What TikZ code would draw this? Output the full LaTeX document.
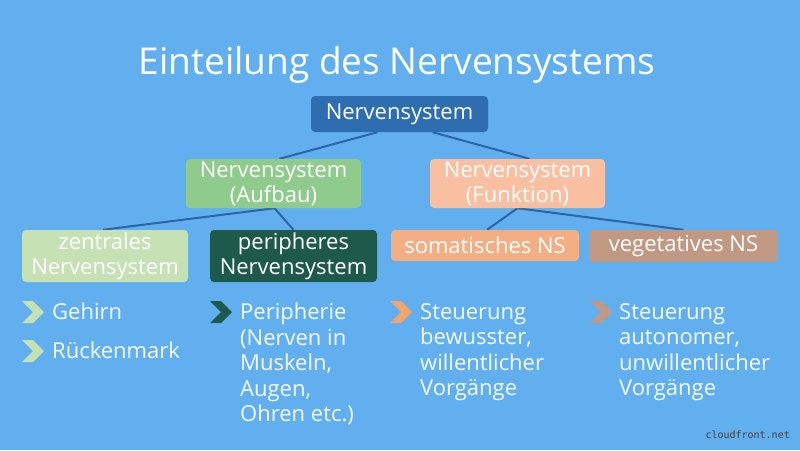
\documentclass[tikz,border=0pt]{standalone}
\usepackage{fontspec}
\setmainfont{Open Sans}
\newfontfamily\wmfont{DejaVu Sans Mono}
\usetikzlibrary{backgrounds}
\definecolor{bgblue}{HTML}{62AFF0}
\definecolor{topblue}{HTML}{2D6DB0}
\definecolor{linec}{HTML}{2A65A5}
\definecolor{aufbauc}{HTML}{8FCB8C}
\definecolor{funkc}{HTML}{F8C0A0}
\definecolor{zentc}{HTML}{C6E2B5}
\definecolor{periphc}{HTML}{1E5A4C}
\definecolor{somc}{HTML}{F4AE84}
\definecolor{somchev}{HTML}{F3A56E}
\definecolor{vegc}{HTML}{C19982}
\definecolor{txtc}{HTML}{F4FAFF}
\tikzset{
  box/.style={fill=#1, rounded corners=4pt, inner sep=0pt, align=center, text=white, font=\fontsize{22}{25}\selectfont},
  conn/.style={draw=linec, line width=2pt},
  bul/.style={anchor=north west, align=left, inner sep=0pt, text=txtc, font=\fontsize{22}{25.5}\selectfont},
}
\newcommand{\chevron}[3]{% x, y (top-left), color
  \fill[#3] (#1,#2) -- ++(11,0) -- ++(11,11) -- ++(-11,11) -- ++(-11,0) -- ++(11,-11) -- cycle;}
\begin{document}
\begin{tikzpicture}[x=1pt,y=-1pt]
\useasboundingbox (0,0) rectangle (800,450);
\node[text=white, font=\fontsize{37}{42}\selectfont] (title) at (397,65) {Einteilung des Nervensystems};

\node[box=topblue, minimum width=177pt, minimum height=36pt] (top) at (399.5,114) {Nervensystem};
\node[box=aufbauc, minimum width=175pt, minimum height=49pt] (aufbau) at (273.5,183.5) {Nervensystem\\(Aufbau)};
\node[box=funkc, minimum width=175pt, minimum height=49pt] (funk) at (517.5,183.5) {Nervensystem\\(Funktion)};
\node[box=zentc, minimum width=166pt, minimum height=52pt] (zent) at (105,256) {zentrales\\Nervensystem};
\node[box=periphc, minimum width=167pt, minimum height=52pt] (periph) at (293.5,256) {peripheres\\Nervensystem};
\node[box=somc, minimum width=188pt, minimum height=31pt] (som) at (485,245.5) {somatisches NS};
\node[box=vegc, minimum width=189pt, minimum height=32pt] (veg) at (683.5,246) {vegetatives NS};

\begin{scope}[on background layer]
\fill[bgblue] (0,0) rectangle (800,450);
\draw[conn] ([xshift=-22pt]top.south) -- ([xshift=6pt]aufbau.north);
\draw[conn] ([xshift=33pt]top.south) -- ([xshift=12pt]funk.north);
\draw[conn] ([xshift=1pt]aufbau.south) -- ([xshift=-2pt]zent.north);
\draw[conn] ([xshift=1pt]aufbau.south) -- ([xshift=0pt]periph.north);
\draw[conn] ([xshift=0pt]funk.south) -- ([xshift=2pt]som.north);
\draw[conn] ([xshift=0pt]funk.south) -- ([xshift=0pt]veg.north);
\end{scope}

\chevron{22}{301}{zentc}
\chevron{22}{340}{zentc}
\chevron{210}{301}{periphc}
\chevron{390}{301}{somchev}
\chevron{590}{301}{vegc}

\node[bul] (b1) at (52,303) {Gehirn};
\node[bul] (b2) at (52,342) {Rückenmark};
\node[bul] (b3) at (240,303) {Peripherie\\(Nerven in\\Muskeln,\\Augen,\\Ohren etc.)};
\node[bul] (b4) at (420,303) {Steuerung\\bewusster,\\willentlicher\\Vorgänge};
\node[bul] (b5) at (619,303) {Steuerung\\autonomer,\\unwillentlicher\\Vorgänge};

\node[anchor=east, inner sep=0pt, text=black!75, font=\wmfont\fontsize{10}{12}\selectfont] (wm) at (790,435) {cloudfront.net};
\end{tikzpicture}
\end{document}
